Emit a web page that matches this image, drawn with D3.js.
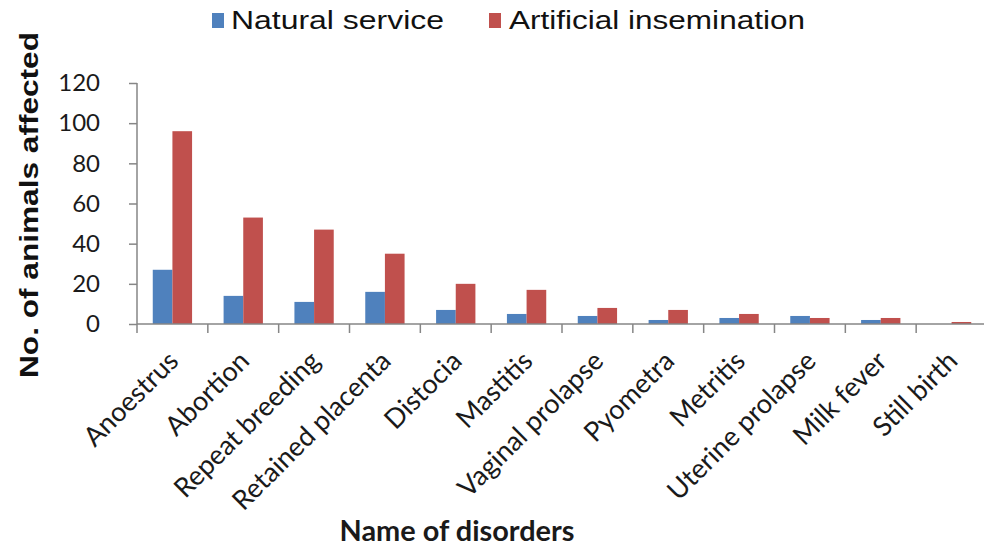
<!DOCTYPE html>
<html>
<head>
<meta charset="utf-8">
<script src="https://cdn.jsdelivr.net/npm/d3@7"></script>
<style>
  html, body { margin: 0; padding: 0; background: #ffffff; }
  svg { display: block; }
</style>
</head>
<body>
<svg id="chart" width="984" height="548"></svg>
<script>
// Reproductive disorders by breeding method
const categories = [
  "Anoestrus", "Abortion", "Repeat breeding", "Retained placenta", "Distocia",
  "Mastitis", "Vaginal prolapse", "Pyometra", "Metritis", "Uterine prolapse",
  "Milk fever", "Still birth"
];
const naturalService = [27, 14, 11, 16, 7, 5, 4, 2, 3, 4, 2, 0];
const artificialInsemination = [96, 53, 47, 35, 20, 17, 8, 7, 5, 3, 3, 1];
const seriesNames = ["Natural service", "Artificial insemination"];
const seriesColors = ["#4F81BD", "#C0504D"];
const yTicks = [0, 20, 40, 60, 80, 100, 120];

const svg = d3.select("#chart");
const axisColor = "#868686";

const x = d3.scaleBand()
  .domain(categories)
  .range([137, 987])
  .paddingInner(0.445)
  .paddingOuter(0.2225);

const xSeries = d3.scaleBand()
  .domain(seriesNames)
  .range([0, x.bandwidth()]);

const y = d3.scaleLinear().domain([0, 120]).range([324, 83]);

// Bars
const rows = categories.map((c, i) => ({
  cat: c,
  values: [naturalService[i], artificialInsemination[i]]
}));

svg.append("g")
  .selectAll("g")
  .data(rows)
  .join("g")
  .attr("transform", d => `translate(${x(d.cat)},0)`)
  .selectAll("rect")
  .data(d => d.values.map((v, k) => ({ v, k })))
  .join("rect")
  .attr("x", d => xSeries(seriesNames[d.k]))
  .attr("width", xSeries.bandwidth())
  .attr("y", d => y(d.v))
  .attr("height", d => y(0) - y(d.v))
  .attr("fill", d => seriesColors[d.k]);

// Y axis
const yAxis = svg.append("g")
  .attr("transform", "translate(137,0)")
  .call(d3.axisLeft(y).tickValues(yTicks).tickSize(8).tickPadding(29));
yAxis.select(".domain").attr("stroke", axisColor).attr("stroke-width", 1.5)
  .attr("d", `M0,${y(120)}V${y(0)}`);
yAxis.selectAll(".tick line").attr("stroke", axisColor).attr("stroke-width", 1.5);
yAxis.selectAll(".tick text")
  .attr("fill", "#1a1a1a")
  .style("font-family", "Lato, 'Open Sans', sans-serif")
  .style("font-size", "24px");

// X axis line with ticks between categories
const boundaries = categories.map(c => x(c) - x.step() * x.paddingInner() / 2);
boundaries.push(x(categories[categories.length - 1]) + x.bandwidth() + x.step() * x.paddingInner() / 2);

const xAxis = svg.append("g");
xAxis.append("line")
  .attr("x1", 137).attr("x2", 984)
  .attr("y1", y(0)).attr("y2", y(0))
  .attr("stroke", axisColor).attr("stroke-width", 1.5);
xAxis.selectAll("line.tk")
  .data(boundaries)
  .join("line")
  .attr("class", "tk")
  .attr("x1", d => d).attr("x2", d => d)
  .attr("y1", y(0)).attr("y2", y(0) + 9)
  .attr("stroke", axisColor).attr("stroke-width", 1.5);

// Category labels, rotated
xAxis.selectAll("text.cat")
  .data(categories)
  .join("text")
  .attr("class", "cat")
  .attr("text-anchor", "end")
  .attr("transform", d => `translate(${x(d) + x.bandwidth() / 2 + 1},${y(0) + 32}) rotate(-45)`)
  .attr("dy", "0.35em")
  .attr("fill", "#1a1a1a")
  .style("font-family", "Lato, 'Open Sans', sans-serif")
  .style("font-size", "27px")
  .text(d => d);

// Axis titles
svg.append("text")
  .attr("x", 457)
  .attr("y", 541)
  .attr("text-anchor", "middle")
  .attr("textLength", 235)
  .attr("lengthAdjust", "spacingAndGlyphs")
  .attr("fill", "#1a1a1a")
  .style("font-family", "Lato, sans-serif")
  .style("font-weight", "bold")
  .style("font-size", "28px")
  .text("Name of disorders");

svg.append("text")
  .attr("transform", "translate(38,205) rotate(-90)")
  .attr("text-anchor", "middle")
  .attr("textLength", 346)
  .attr("lengthAdjust", "spacingAndGlyphs")
  .attr("fill", "#111111")
  .style("font-family", "'Liberation Sans', Arial, sans-serif")
  .style("font-weight", "bold")
  .style("font-size", "25px")
  .text("No. of animals affected");

// Legend
const legendItems = [
  { name: seriesNames[0], color: seriesColors[0], sx: 212, tx: 231, tw: 213 },
  { name: seriesNames[1], color: seriesColors[1], sx: 489, tx: 509, tw: 296 }
];
const legend = svg.append("g");
legendItems.forEach(it => {
  legend.append("rect")
    .attr("x", it.sx).attr("y", 13)
    .attr("width", 12).attr("height", 15)
    .attr("fill", it.color);
  legend.append("text")
    .attr("x", it.tx).attr("y", 29)
    .attr("textLength", it.tw)
    .attr("lengthAdjust", "spacingAndGlyphs")
    .attr("fill", "#111111")
    .style("font-family", "'Liberation Sans', Arial, sans-serif")
    .style("font-size", "26px")
    .text(it.name);
});
</script>
</body>
</html>
